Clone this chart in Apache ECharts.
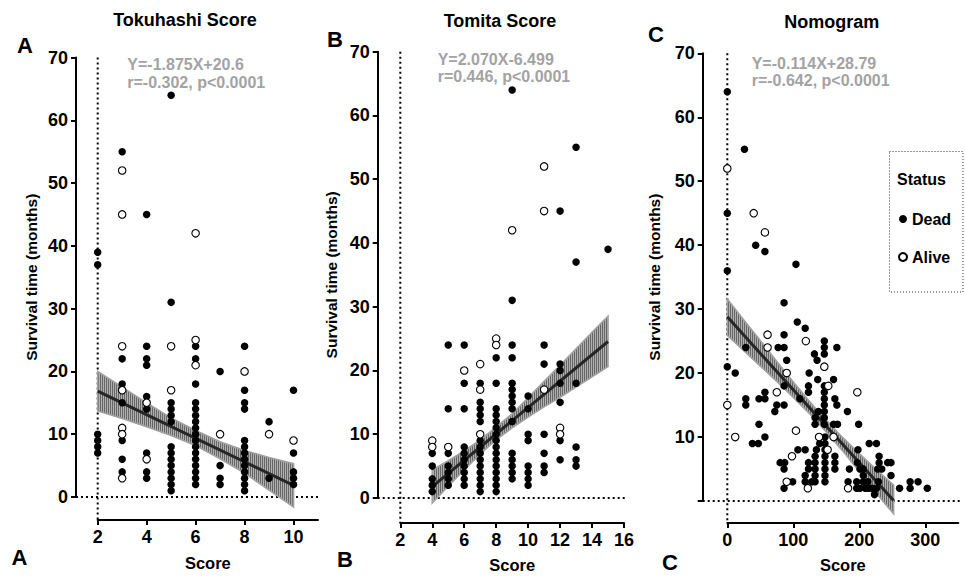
<!DOCTYPE html>
<html><head><meta charset="utf-8">
<script src="https://cdn.jsdelivr.net/npm/echarts@6/dist/echarts.min.js"></script>
<style>html,body{margin:0;padding:0;background:#fff}#c{width:965px;height:578px}</style>
</head><body><div id="c"></div>
<script>
// ---------- Panel A : Tokuhashi Score ----------
const tokuScores = [2, 3, 4, 5, 6, 7, 8, 9, 10];
const tokuDead = [
  [7, 8, 9, 10, 37, 39],
  [55, 22, 18, 15, 9, 6, 4],
  [45, 24, 22, 21, 16, 14, 7, 4, 3],
  [64, 31, 15, 14, 13, 12, 8, 7, 6, 5, 4, 3, 2, 1],
  [24, 22, 18, 15, 14, 13, 12, 11, 10, 9, 8, 7, 6, 5, 4, 3, 2],
  [20, 5, 3, 2],
  [24, 17, 15, 14, 9, 8, 7, 6, 5, 4, 3, 2, 1],
  [12, 3],
  [17, 7, 4, 3, 2]
];
const tokuAlive = [[], [52, 45, 24, 17, 11, 10, 3], [15, 6], [24, 17], [42, 25, 21], [10], [20], [10], [9]];
const tokuFitX = [2, 10];
const tokuFitY = [16.85, 1.85];
const tokuBandX = [2, 3, 4, 5, 6, 7, 8, 9, 10];
const tokuBandUpper = [20.0, 17.5, 15.0, 12.6, 10.6, 8.8, 7.4, 6.3, 5.3];
const tokuBandLower = [13.7, 12.5, 11.2, 9.8, 8.2, 6.1, 3.8, 1.1, -1.6];
const tokuTicks = [2, 4, 6, 8, 10];

// ---------- Panel B : Tomita Score ----------
const tomitaScores = [4, 5, 6, 7, 8, 9, 10, 11, 12, 13, 15];
const tomitaDead = [
  [7, 5, 3, 2, 1],
  [24, 14, 7, 5, 4, 3, 2],
  [24, 18, 14, 8, 7, 6, 5, 4, 3, 2],
  [18, 15, 14, 13, 12, 9, 8, 7, 6, 5, 4, 3, 2, 1],
  [22, 18, 14, 13, 12, 11, 10, 9, 8, 7, 6, 5, 4, 3, 2, 1],
  [64, 31, 24, 22, 18, 17, 16, 15, 14, 12, 7, 6, 5, 4, 3],
  [16, 14, 10, 9, 5, 4, 3, 2],
  [24, 21, 10, 7, 5, 4],
  [45, 21, 20, 18, 15, 9, 6],
  [55, 37, 18, 8, 6, 5],
  [39]
];
const tomitaAlive = [[9, 8], [8], [20], [21, 17, 10], [25, 24], [42], [], [52, 45, 17], [11, 10], [], []];
const tomitaFitX = [4, 15];
const tomitaFitY = [1.781, 24.551];
const tomitaBandX = [4, 5, 6, 7, 8, 9, 10, 11, 12, 13, 14, 15];
const tomitaBandUpper = [4.4, 5.85, 7.4, 9.1, 11.1, 13.2, 15.7, 18.3, 20.8, 23.4, 26.0, 28.5];
const tomitaBandLower = [-0.8, 1.85, 4.4, 6.9, 9.1, 11.0, 12.7, 14.3, 15.8, 17.4, 19.0, 20.6];
const tomitaTicks = [2, 4, 6, 8, 10, 12, 14, 16];

// ---------- Panel C : Nomogram ----------
const nomoDead = [
  [0, 64], [26, 55], [0, 45], [43, 40], [57, 39], [104, 37], [0, 36],
  [86, 31], [106, 28], [118, 27], [86, 26], [147, 25],
  [28, 24], [77, 24], [86, 24], [147, 24], [166, 24],
  [132, 23], [147, 23], [90, 22], [136, 22], [0, 21],
  [12, 20], [124, 20], [137, 19], [161, 19],
  [86, 18], [123, 18], [147, 18],
  [57, 17], [123, 17], [147, 17],
  [28, 16], [48, 16], [57, 16], [110, 16], [147, 16], [163, 16],
  [28, 15], [75, 15], [86, 15], [147, 15], [166, 15],
  [72, 14], [138, 14], [147, 14], [182, 14],
  [133, 13], [147, 13],
  [48, 12], [133, 12], [147, 12], [161, 12], [167, 12], [199, 12],
  [57, 10], [148, 10],
  [38, 9], [47, 9], [140, 9], [148, 9], [215, 9], [226, 9],
  [107, 8], [118, 8], [135, 8], [148, 8], [198, 8],
  [133, 7], [148, 7], [163, 7], [230, 7],
  [80, 6], [87, 6], [123, 6], [133, 6], [148, 6], [163, 6], [197, 6], [230, 6], [243, 6], [248, 6],
  [86, 5], [123, 5], [133, 5], [148, 5], [163, 5], [185, 5], [201, 5], [206, 5], [228, 5], [234, 5],
  [118, 4], [133, 4], [148, 4], [206, 4], [248, 4],
  [99, 3], [118, 3], [128, 3], [133, 3], [148, 3], [183, 3], [196, 3], [206, 3], [213, 3], [229, 3], [277, 3], [289, 3],
  [86, 2], [196, 2], [201, 2], [209, 2], [214, 2], [219, 2], [226, 2], [261, 2], [277, 2], [303, 2],
  [223, 1]
];
const nomoAlive = [
  [0, 52], [40, 45], [57, 42], [61, 26], [119, 25], [61, 24], [147, 21], [90, 20], [153, 18],
  [75, 17], [197, 17], [0, 15], [104, 11], [12, 10], [139, 10], [161, 10], [152, 8], [98, 7],
  [90, 3], [122, 2], [183, 2]
];
const nomoFitX = [0, 252];
const nomoFitY = [28.79, 0.06];
const nomoBandX = [0, 25, 50, 75, 100, 125, 150, 175, 200, 225, 252];
const nomoBandUpper = [31.6, 28.3, 25.1, 21.8, 18.6, 15.5, 12.6, 9.9, 7.4, 5.0, 2.5];
const nomoBandLower = [25.9, 23.5, 21.1, 18.7, 16.2, 13.6, 10.8, 7.8, 4.6, 1.3, -2.0];
const nomoTicks = [0, 100, 200, 300];

// ---------- shared ----------
const yTicks = [0, 10, 20, 30, 40, 50, 60, 70];
const nomoYLabels = [10, 20, 30, 40, 50, 60, 70];
const titles = ['Tokuhashi Score', 'Tomita Score', 'Nomogram'];
const equations = [
  'Y=-1.875X+20.6\nr=-0.302, p<0.0001',
  'Y=2.070X-6.499\nr=0.446, p<0.0001',
  'Y=-0.114X+28.79\nr=-0.642, p<0.0001'
];
const letters = ['A', 'B', 'C'];

const FONT = "'Liberation Sans', Arial, sans-serif";

function groupPts(xs, groups) {
  const out = [];
  xs.forEach((x, i) => groups[i].forEach(y => out.push([x, y])));
  return out;
}
function zip(a, b) { return a.map((v, i) => [v, b[i]]); }

function hatch() {
  const c = document.createElement('canvas');
  c.width = 2; c.height = 2;
  const g = c.getContext('2d');
  g.fillStyle = '#b0b0b0'; g.fillRect(0, 0, 2, 2);
  g.fillStyle = '#666666'; g.fillRect(0, 0, 1, 2);
  return { image: c.toDataURL(), repeat: 'repeat', imageWidth: 2, imageHeight: 2 };
}
const HATCH = hatch();

function bandSeries(idx, xs, up, lo) {
  return {
    type: 'custom', xAxisIndex: idx, yAxisIndex: idx, silent: true, z: 1, clip: false,
    data: xs.map((x, i) => [x, up[i], lo[i]]),
    encode: { x: 0, y: [1, 2] },
    renderItem: function (params, api) {
      if (params.dataIndex !== 0) return null;
      const pts = [];
      for (let i = 0; i < xs.length; i++) pts.push(api.coord([xs[i], up[i]]));
      for (let i = xs.length - 1; i >= 0; i--) pts.push(api.coord([xs[i], lo[i]]));
      return {
        type: 'polygon', shape: { points: pts },
        style: { fill: HATCH, stroke: '#a2a2a2', lineWidth: 1.6 }
      };
    }
  };
}
function fitSeries(idx, xs, ys) {
  return {
    type: 'line', xAxisIndex: idx, yAxisIndex: idx, data: zip(xs, ys), symbol: 'none',
    silent: true, z: 2, clip: false,
    lineStyle: { color: '#262626', width: 3 }
  };
}
function deadSeries(idx, data) {
  return {
    name: 'Dead', type: 'scatter', xAxisIndex: idx, yAxisIndex: idx, data: data, z: 3, clip: false,
    symbol: 'circle', symbolSize: 7.5, itemStyle: { color: '#000', opacity: 1 }
  };
}
function aliveSeries(idx, data) {
  return {
    name: 'Alive', type: 'scatter', xAxisIndex: idx, yAxisIndex: idx, data: data, z: 4, clip: false,
    symbol: 'circle', symbolSize: 7.5,
    itemStyle: { color: '#fff', borderColor: '#000', borderWidth: 1.1, opacity: 1 }
  };
}

const lineStyleAxis = { color: '#000', width: 2 };
function xAxis(idx, min, max, interval, ticks, offset, nameGap) {
  return {
    type: 'value', gridIndex: idx, min: min, max: max, interval: interval, offset: offset,
    name: 'Score', nameLocation: 'middle', nameGap: nameGap,
    nameTextStyle: { color: '#000', fontWeight: 'bold', fontSize: 16.5, fontFamily: FONT },
    axisLine: { show: true, onZero: false, lineStyle: lineStyleAxis },
    axisTick: { show: true, length: 5, lineStyle: lineStyleAxis, customValues: ticks },
    axisLabel: { color: '#000', fontWeight: 'bold', fontSize: 18, fontFamily: FONT, margin: 8, customValues: ticks },
    splitLine: { show: false }
  };
}
function yAxis(idx, labels, offset, nameGap) {
  return {
    type: 'value', gridIndex: idx, min: 0, max: 70, interval: 10, offset: offset,
    name: 'Survival time (months)', nameLocation: 'middle', nameGap: nameGap, nameRotate: 90,
    nameTextStyle: { color: '#000', fontWeight: 'bold', fontSize: 15.5, fontFamily: FONT },
    axisLine: { show: true, onZero: false, lineStyle: lineStyleAxis },
    axisTick: { show: true, length: 5, lineStyle: lineStyleAxis, customValues: yTicks },
    axisLabel: { color: '#000', fontWeight: 'bold', fontSize: 18, fontFamily: FONT, margin: 8, customValues: labels },
    splitLine: { show: false }
  };
}

const yOffsets = [21.7, 22.6, 24.6];
const xOffsets = [23, 25, 22];

const chart = echarts.init(document.getElementById('c'), null, { renderer: 'svg' });
chart.setOption({
  animation: false,
  backgroundColor: '#fff',
  textStyle: { fontFamily: FONT },
  grid: [
    { left: 97.7, top: 57.5, width: 220.3, height: 439.5 },
    { left: 400.3, top: 51.7, width: 223.7, height: 449.3 },
    { left: 727.3, top: 53.3, width: 231, height: 452.2 }
  ],
  xAxis: [
    xAxis(0, 2, 11, 2, tokuTicks, xOffsets[0], 34),
    xAxis(1, 2, 16, 2, tomitaTicks, xOffsets[1], 33),
    xAxis(2, 0, 350, 100, nomoTicks, xOffsets[2], 33)
  ],
  yAxis: [
    yAxis(0, yTicks, yOffsets[0], 37),
    yAxis(1, yTicks, yOffsets[1], 38),
    yAxis(2, nomoYLabels, yOffsets[2], 40)
  ],
  legend: {
    data: ['Dead', 'Alive'], orient: 'vertical', left: 893, top: 206,
    itemWidth: 8, itemHeight: 8, itemGap: 22, icon: 'circle', selectedMode: false,
    textStyle: { color: '#000', fontWeight: 'bold', fontSize: 16, fontFamily: FONT }
  },
  series: [
    bandSeries(0, tokuBandX, tokuBandUpper, tokuBandLower),
    fitSeries(0, tokuFitX, tokuFitY),
    deadSeries(0, groupPts(tokuScores, tokuDead)),
    aliveSeries(0, groupPts(tokuScores, tokuAlive)),
    bandSeries(1, tomitaBandX, tomitaBandUpper, tomitaBandLower),
    fitSeries(1, tomitaFitX, tomitaFitY),
    deadSeries(1, groupPts(tomitaScores, tomitaDead)),
    aliveSeries(1, groupPts(tomitaScores, tomitaAlive)),
    bandSeries(2, nomoBandX, nomoBandUpper, nomoBandLower),
    fitSeries(2, nomoFitX, nomoFitY),
    deadSeries(2, nomoDead),
    aliveSeries(2, nomoAlive)
  ]
});

// reference (dotted) lines, titles, labels — positioned via the axes
const xRanges = [[2, 11], [2, 16], [0, 350]];
const titlePos = [[185, 20], [500, 20.5], [831.7, 22]];
const eqPos = [[127.3, 56], [437.7, 50.5], [751.7, 54.5]];
const letterTop = [[25, 45], [335, 39], [656, 34.5]];
const letterBottom = [[19.5, 557], [345, 559], [670, 562]];
const graphics = [];
const dotted = { stroke: '#000', lineWidth: 2, lineDash: [2, 3] };
for (let i = 0; i < 3; i++) {
  const p0 = chart.convertToPixel({ gridIndex: i }, [xRanges[i][0], 0]);
  const pTop = chart.convertToPixel({ gridIndex: i }, [xRanges[i][0], 70]);
  const pEnd = chart.convertToPixel({ gridIndex: i }, [xRanges[i][1], 0]);
  graphics.push({ type: 'line', silent: true, z: 0, shape: { x1: p0[0] - yOffsets[i], y1: p0[1], x2: pEnd[0] + 3, y2: p0[1] }, style: dotted });
  graphics.push({ type: 'line', silent: true, z: 0, shape: { x1: p0[0], y1: pTop[1], x2: p0[0], y2: p0[1] + xOffsets[i] }, style: dotted });
  graphics.push({ type: 'text', x: titlePos[i][0], y: titlePos[i][1], style: { text: titles[i], align: 'center', verticalAlign: 'middle', fill: '#000', fontSize: 18, fontWeight: 'bold', fontFamily: FONT } });
  graphics.push({ type: 'text', x: eqPos[i][0], y: eqPos[i][1], style: { text: equations[i], align: 'left', verticalAlign: 'top', lineHeight: 17.5, fill: '#a3a3a3', fontSize: 16, fontWeight: 'bold', fontFamily: FONT } });
  graphics.push({ type: 'text', x: letterTop[i][0], y: letterTop[i][1], style: { text: letters[i], align: 'center', verticalAlign: 'middle', fill: '#000', fontSize: 22, fontWeight: 'bold', fontFamily: FONT } });
  graphics.push({ type: 'text', x: letterBottom[i][0], y: letterBottom[i][1], style: { text: letters[i], align: 'center', verticalAlign: 'middle', fill: '#000', fontSize: 22, fontWeight: 'bold', fontFamily: FONT } });
}
// legend frame and title
graphics.push({ type: 'rect', silent: true, shape: { x: 889.5, y: 151.5, width: 73.5, height: 140.5 }, style: { fill: 'none', stroke: '#333', lineWidth: 1, lineDash: [1, 2] } });
graphics.push({ type: 'text', x: 897, y: 179, style: { text: 'Status', align: 'left', verticalAlign: 'middle', fill: '#000', fontSize: 16, fontWeight: 'bold', fontFamily: FONT } });
chart.setOption({ graphic: graphics });
</script>
</body></html>
